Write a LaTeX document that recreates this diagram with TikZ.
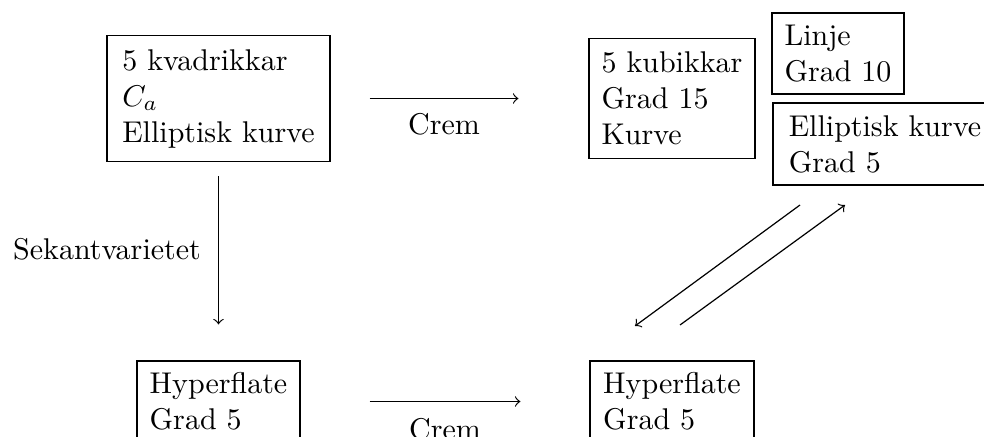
\documentclass[tikz,border=0pt]{standalone}
\usetikzlibrary{calc}
\begin{document}
\begin{tikzpicture}[x=0.33333pt,y=-0.33333pt,
  box/.style={draw, align=left, inner sep=0pt},
  lbl/.style={inner sep=0pt},
  arr/.style={->}]
\useasboundingbox (0,0) rectangle (984,437);
\clip (0,0) rectangle (984,437);
% boxes
\node[box, minimum width=74.33pt, minimum height=42pt] (A) at (218.5,98.5) {5 kvadrikkar\\ $C_a$\\ Elliptisk kurve};
\node[box, minimum width=55.33pt, minimum height=40pt] (B) at (672,98.5) {5 kubikkar\\ Grad 15\\ Kurve};
\node[box, minimum width=44pt, minimum height=27pt] (C) at (838,53.5) {Linje\\ Grad 10};
\node[box, minimum width=74.67pt, minimum height=27.33pt] (D) at (885,144) {Elliptisk kurve\\ Grad 5};
\node[box, minimum width=54.33pt, minimum height=27pt] (E) at (218.5,401.5) {Hyperflate\\ Grad 5};
\node[box, minimum width=54.67pt, minimum height=27pt] (F) at (672,401.5) {Hyperflate\\ Grad 5};
% labels
\node[lbl] (crem1) at (444,124) {Crem};
\node[lbl] (crem2) at (445,429) {Crem};
\node[lbl] (sek) at (107,249) {Sekantvarietet};
% connectors
\draw[arr, shorten <=13pt, shorten >=23.33pt] (A.east) -- (B.west);
\draw[arr, shorten <=23pt, shorten >=23pt] (E.east) -- (F.west);
\draw[arr, shorten <=4.67pt, shorten >=12pt] (A.south) -- (E.north);
\coordinate (d1) at (800,205);
\coordinate (f1) at (635,326);
\coordinate (f2) at (680,325);
\coordinate (d2) at (845,205);
\draw[arr] (d1) -- (f1);
\draw[arr] (f2) -- (d2);
\end{tikzpicture}
\end{document}
